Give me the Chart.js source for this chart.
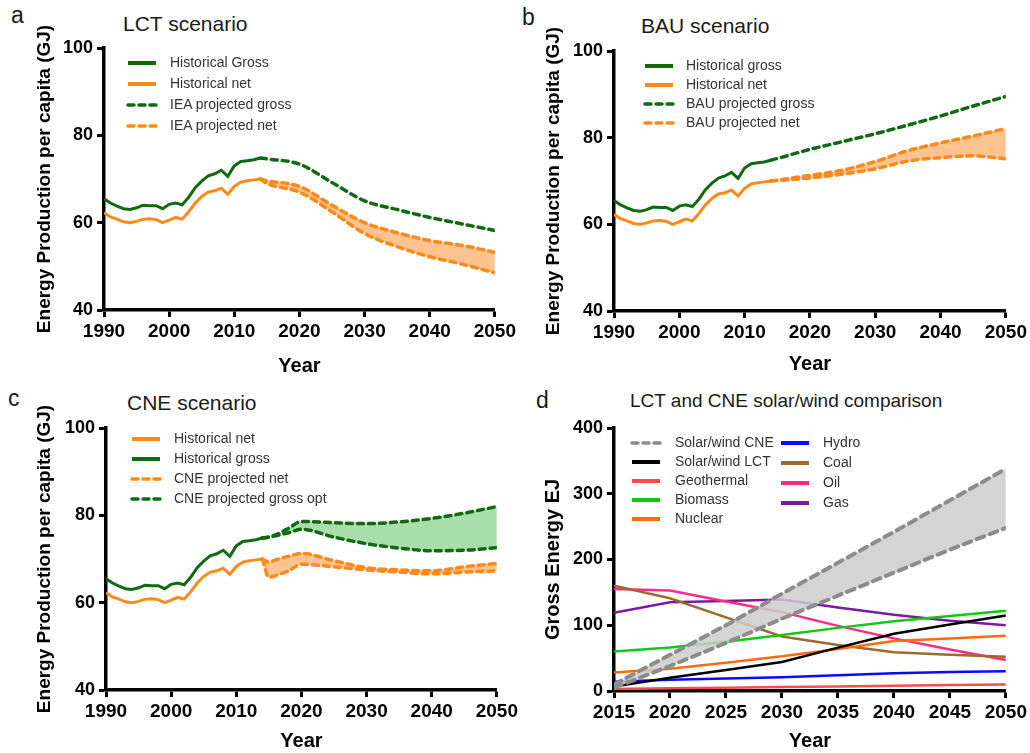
<!DOCTYPE html>
<html>
<head>
<meta charset="utf-8">
<script src="https://cdn.jsdelivr.net/npm/chart.js@4.4.1/dist/chart.umd.min.js"></script>
<style>
  body { margin: 0; background: #fff; width: 1030px; height: 753px; overflow: hidden; position: relative;
         font-family: "Liberation Sans", Arial, sans-serif; }
  canvas { position: absolute; }
  .txt { position: absolute; white-space: nowrap; color: #1a1a1a; line-height: 1; }
  .letter { font-size: 23px; }
  .ptitle { font-size: 21px; }
  .leg { position: absolute; white-space: nowrap; font-size: 14px; color: #333; line-height: 1; }
</style>
</head>
<body>
<div class="txt letter" style="left:11px;top:4px">a</div>
<div class="txt letter" style="left:522px;top:6px">b</div>
<div class="txt letter" style="left:8px;top:387px">c</div>
<div class="txt letter" style="left:536px;top:389px">d</div>
<div class="txt ptitle" style="left:123px;top:13px">LCT scenario</div>
<div class="txt ptitle" style="left:641px;top:15px">BAU scenario</div>
<div class="txt ptitle" style="left:127px;top:392px">CNE scenario</div>
<div class="txt ptitle" style="left:630px;top:391px;font-size:19px">LCT and CNE solar/wind comparison</div>

<canvas id="chartA"></canvas>
<canvas id="chartB"></canvas>
<canvas id="chartC"></canvas>
<canvas id="chartD"></canvas>
<div id="legends"></div>

<script>
// historico 1990-2014 (GJ per capita)
const histYears = [1990,1991,1992,1993,1994,1995,1996,1997,1998,1999,2000,2001,2002,2003,2004,2005,2006,2007,2008,2009,2010,2011,2012,2013,2014];
const histGross = [65.5,64.5,63.8,63.2,63.0,63.4,64.0,63.9,63.9,63.2,64.2,64.5,64.1,65.8,68.0,69.5,70.7,71.2,72.0,70.6,73.0,74.0,74.2,74.4,74.8];
const histNet   = [62.3,61.3,60.8,60.2,60.0,60.3,60.8,60.9,60.7,60.0,60.6,61.2,60.8,62.5,64.5,66.0,67.0,67.3,67.9,66.5,68.3,69.3,69.6,69.8,70.0];

// proyecciones LCT / BAU
const projYears   = [2014,2015,2020,2025,2030,2035,2040,2045,2050];
const ieaGross    = [74.8,74.6,73.4,69.2,65.0,63.0,61.2,59.7,58.2];
const ieaNetHigh  = [70.0,69.6,68.3,64.0,60.0,57.7,55.9,54.8,53.2];
const ieaNetLow   = [70.0,69.0,67.0,62.5,57.5,54.5,52.2,50.5,48.5];
const bauGross    = [74.8,75.2,77.3,79.1,80.9,82.9,85.0,87.3,89.5];
const bauNetHigh  = [70.0,70.2,71.3,72.5,74.5,77.0,78.8,80.4,82.1];
const bauNetLow   = [70.0,70.1,70.7,71.6,72.8,74.6,75.4,75.8,75.1];

// proyecciones CNE
const cneYears      = [2014,2015,2016,2018,2020,2025,2030,2035,2040,2045,2050];
const cneGrossHigh  = [74.8,75.0,75.5,77.0,78.6,78.3,78.1,78.5,79.3,80.5,82.0];
const cneGrossLow   = [74.8,75.0,75.3,76.0,76.8,75.0,73.5,72.5,71.9,72.0,72.6];
const cneNetHigh    = [70.0,69.3,69.8,70.6,71.3,69.6,68.0,67.5,67.3,68.2,69.0];
const cneNetLow     = [70.0,65.8,66.2,67.3,68.8,68.2,67.5,67.0,66.6,67.0,67.3];

// panel d (EJ)
const mixYears      = [2015,2020,2025,2030,2035,2040,2045,2050];
const solarCneHigh  = [10,55,100,148,195,242,290,338];
const solarCneLow   = [5,38,73,110,145,180,215,248];
const solarLct      = [7,20,32,44,66,87,101,115];
const geothermal    = [3,4,5,6,7,8,9,10];
const biomass       = [60,66,75,85,96,106,114,122];
const nuclear       = [28,34,43,53,64,76,80,84];
const hydro         = [14,17,19,21,24,27,29,30];
const coal          = [160,141,112,83,70,59,55,52];
const oil           = [155,153,136,120,99,80,63,47];
const gas           = [119,135,137,139,127,116,107,100];

const FONT = '"Liberation Sans", Arial, sans-serif';
const GREEN = '#106a10';
const ORANGE = '#ff8a1a';
const ORANGE_FILL = 'rgba(255,170,95,0.7)';
const GREEN_FILL = 'rgba(140,210,140,0.75)';
const DASH = [6, 5];

function pts(xs, ys) {
    return xs.map((x, i) => ({ x: x, y: ys[i] }));
}

function solid(label, xs, ys, color, width) {
    return { label: label, data: pts(xs, ys), borderColor: color, borderWidth: width || 3, tension: 0, fill: false };
}

function dashed(label, xs, ys, color, extra) {
    return Object.assign({
        label: label, data: pts(xs, ys), borderColor: color, borderWidth: 3.5,
        borderDash: DASH, borderCapStyle: 'round', cubicInterpolationMode: 'monotone', fill: false
    }, extra || {});
}

// box = [left, top, width, height], pad = [top, right]
function makeChart(id, box, pad, xr, yr, datasets, yTitle, yW, xH, yTitleSize) {
    const cv = document.getElementById(id);
    cv.width = box[2];
    cv.height = box[3];
    cv.style.left = box[0] + 'px';
    cv.style.top = box[1] + 'px';
    cv.style.width = box[2] + 'px';
    cv.style.height = box[3] + 'px';
    const axisGrid = { display: true, drawOnChartArea: false, drawTicks: true, tickLength: 7, tickWidth: 3, tickColor: '#000' };
    const axisBorder = { display: true, color: '#000', width: 3.5 };
    new Chart(cv, {
        type: 'line',
        data: { datasets: datasets },
        options: {
            responsive: false,
            animation: false,
            layout: { padding: { top: pad[0], right: pad[1], left: 0, bottom: 0 } },
            plugins: { legend: { display: false }, tooltip: { enabled: false } },
            elements: { point: { radius: 0 } },
            scales: {
                x: {
                    type: 'linear', min: xr[0], max: xr[1],
                    ticks: { stepSize: xr[2], color: '#000', padding: 3, maxRotation: 0,
                             font: { family: FONT, size: 19, weight: 'bold' },
                             callback: v => String(v) },
                    grid: axisGrid, border: axisBorder,
                    title: { display: true, text: 'Year', color: '#000',
                             font: { family: FONT, size: 20, weight: 'bold' }, padding: { top: 2, bottom: 0 } },
                    afterFit: s => { s.height = xH; }
                },
                y: {
                    min: yr[0], max: yr[1],
                    ticks: { stepSize: yr[2], color: '#000', padding: 4,
                             font: { family: FONT, size: 18, weight: 'bold' },
                             callback: v => String(v) },
                    grid: axisGrid, border: axisBorder,
                    title: { display: true, text: yTitle, color: '#000',
                             font: { family: FONT, size: yTitleSize, weight: 'bold' }, padding: { top: 0, bottom: 0 } },
                    afterFit: s => { s.width = yW; }
                }
            }
        }
    });
    return datasets;
}

// leyenda HTML a partir de los datasets
function legend(datasets, order, x0, y0, rowH, textDx, sampleW) {
    const wrap = document.getElementById('legends');
    order.forEach((idx, i) => {
        const ds = datasets[idx];
        const y = y0 + i * rowH;
        const dash = ds.borderDash ? 'stroke-dasharray="6 5" stroke-linecap="round"' : '';
        const sw = ds.borderDash ? 3.5 : 4;
        const svg = document.createElementNS('http://www.w3.org/2000/svg', 'svg');
        svg.setAttribute('width', sampleW + 4);
        svg.setAttribute('height', 10);
        svg.style.position = 'absolute';
        svg.style.left = x0 + 'px';
        svg.style.top = (y - 5) + 'px';
        svg.innerHTML = `<line x1="2" y1="5" x2="${sampleW + 2}" y2="5" stroke="${ds.borderColor}" stroke-width="${sw}" ${dash}/>`;
        wrap.appendChild(svg);
        const t = document.createElement('div');
        t.className = 'leg';
        t.textContent = ds.label;
        t.style.left = (x0 + textDx) + 'px';
        t.style.top = (y - 8) + 'px';
        wrap.appendChild(t);
    });
}

// Panel a: LCT
const dsA = makeChart('chartA', [33, 0, 486, 378], [48, 24], [1990, 2050, 10], [40, 100, 20], [
    dashed('IEA projected net', projYears, ieaNetHigh, ORANGE),
    dashed('IEA projected net low', projYears, ieaNetLow, ORANGE, { fill: { target: 0 }, backgroundColor: ORANGE_FILL }),
    dashed('IEA projected gross', projYears, ieaGross, GREEN),
    solid('Historical Gross', histYears, histGross, GREEN),
    solid('Historical net', histYears, histNet, ORANGE)
], 'Energy Production per capita (GJ)', 71, 68, 19);
legend(dsA, [3, 4, 2, 0], 126, 63, 21, 44, 28);

// Panel b: BAU
const dsB = makeChart('chartB', [542, 0, 488, 376], [51, 23], [1990, 2050, 10], [40, 100, 20], [
    dashed('BAU projected net', projYears, bauNetHigh, ORANGE),
    dashed('BAU projected net low', projYears, bauNetLow, ORANGE, { fill: { target: 0 }, backgroundColor: ORANGE_FILL }),
    dashed('BAU projected gross', projYears, bauGross, GREEN),
    solid('Historical gross', histYears, histGross, GREEN),
    solid('Historical net', histYears, histNet, ORANGE)
], 'Energy Production per capita (GJ)', 72, 65, 19);
legend(dsB, [3, 4, 2, 0], 643, 66, 19, 43, 28);

// Panel c: CNE
const dsC = makeChart('chartC', [33, 380, 488, 373], [48, 24], [1990, 2050, 10], [40, 100, 20], [
    dashed('CNE projected net', cneYears, cneNetHigh, ORANGE),
    dashed('CNE projected net low', cneYears, cneNetLow, ORANGE, { fill: { target: 0 }, backgroundColor: ORANGE_FILL }),
    dashed('CNE projected gross opt', cneYears, cneGrossHigh, GREEN),
    dashed('CNE projected gross low', cneYears, cneGrossLow, GREEN, { fill: { target: 2 }, backgroundColor: GREEN_FILL }),
    solid('Historical gross', histYears, histGross, GREEN),
    solid('Historical net', histYears, histNet, ORANGE)
], 'Energy Production per capita (GJ)', 73, 63, 19);
legend(dsC, [5, 4, 0, 2], 130, 439, 20, 44, 28);

// Panel d: mix energetico
const GRAY = '#8c8c8c';
const dsD = makeChart('chartD', [541, 380, 489, 373], [48, 24], [2015, 2050, 5], [0, 400, 100], [
    dashed('Solar/wind CNE', mixYears, solarCneHigh, GRAY, { cubicInterpolationMode: 'default', tension: 0, borderWidth: 4, borderDash: [8, 6] }),
    dashed('Solar/wind CNE low', mixYears, solarCneLow, GRAY, { cubicInterpolationMode: 'default', tension: 0, borderWidth: 4, borderDash: [8, 6],
        fill: { target: 0 }, backgroundColor: 'rgba(205,205,205,0.85)' }),
    solid('Solar/wind LCT', mixYears, solarLct, '#000000', 2.5),
    solid('Geothermal', mixYears, geothermal, '#ff4a4a', 2.5),
    solid('Biomass', mixYears, biomass, '#12c812', 2.5),
    solid('Nuclear', mixYears, nuclear, '#ff6a10', 2.5),
    solid('Hydro', mixYears, hydro, '#0a0aff', 2.5),
    solid('Coal', mixYears, coal, '#9a6a2e', 2.5),
    solid('Oil', mixYears, oil, '#ff2a8a', 2.5),
    solid('Gas', mixYears, gas, '#7a1aa0', 2.5)
], 'Gross Energy EJ', 73, 62, 20);
legend(dsD, [0, 2, 3, 4, 5], 630, 443, 19, 45, 28);
legend(dsD, [6, 7, 8, 9], 779, 443, 20, 44, 28);
</script>
</body>
</html>
